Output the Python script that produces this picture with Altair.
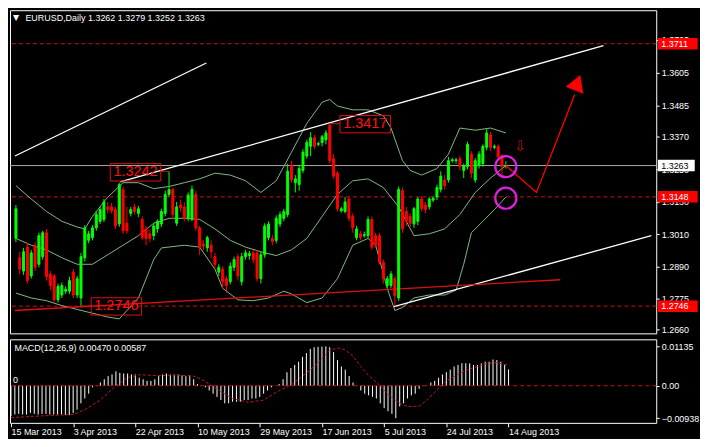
import altair as alt
import pandas as pd

# ---------------- data ----------------
opens = [1.2995,1.2924,1.2875,1.2963,1.2857,1.2970,1.2900,1.2928,1.3016,1.2864,
         1.2857,1.2769,1.2787,1.2801,1.2801,1.2871,1.2787,1.2776,1.2924,1.2988,
         1.2998,1.3034,1.3058,1.3065,1.3111,1.3111,1.3101,1.3048,1.3175,1.3051,
         1.3087,1.3111,1.3087,1.3065,1.3030,1.3012,1.3005,1.3030,1.3048,1.3087,
         1.3157,1.3175,1.3051,1.3118,1.3111,1.3069,1.3065,1.3157,1.3034,1.2974,
         1.2960,1.2970,1.2928,1.2871,1.2882,1.2847,1.2836,1.2889,1.2928,1.2836,
         1.2928,1.2932,1.2942,1.2942,1.2847,1.2935,1.2998,1.2995,1.2988,1.3048,
         1.3069,1.3083,1.3263,1.3200,1.3193,1.3245,1.3298,1.3334,1.3365,1.3341,
         1.3348,1.3358,1.3411,1.3288,1.3235,1.3097,1.3094,1.3140,1.3076,1.2998,
         1.3012,1.3005,1.3005,1.3065,1.3005,1.3005,1.2907,1.2822,1.2822,1.2847,
         1.2776,1.3171,1.3094,1.3076,1.3048,1.3058,1.3140,1.3118,1.3111,1.3136,
         1.3147,1.3175,1.3210,1.3210,1.3281,1.3281,1.3288,1.3245,1.3259,1.3305,
         1.3210,1.3263,1.3270,1.3330,1.3376,1.3330,1.3334,1.3298,1.3262]
highs = [1.3118,1.2946,1.2960,1.2977,1.2953,1.2981,1.3016,1.3023,1.3030,1.2875,
         1.2864,1.2829,1.2833,1.2819,1.2854,1.2882,1.2857,1.2942,1.3044,1.3023,
         1.3044,1.3094,1.3111,1.3140,1.3129,1.3125,1.3111,1.3200,1.3186,1.3111,
         1.3111,1.3122,1.3115,1.3076,1.3041,1.3030,1.3051,1.3065,1.3104,1.3171,
         1.3242,1.3182,1.3129,1.3136,1.3129,1.3164,1.3189,1.3171,1.3041,1.2988,
         1.3005,1.2988,1.2942,1.2900,1.2893,1.2857,1.2907,1.2928,1.2939,1.2942,
         1.2953,1.2949,1.2953,1.2953,1.2946,1.3051,1.3058,1.3009,1.3080,1.3094,
         1.3104,1.3270,1.3281,1.3228,1.3263,1.3323,1.3358,1.3386,1.3376,1.3351,
         1.3376,1.3393,1.3417,1.3305,1.3242,1.3111,1.3147,1.3147,1.3087,1.3041,
         1.3023,1.3020,1.3076,1.3076,1.3016,1.3016,1.2917,1.2857,1.2875,1.2857,
         1.3186,1.3182,1.3111,1.3087,1.3111,1.3147,1.3150,1.3129,1.3147,1.3150,
         1.3193,1.3242,1.3228,1.3295,1.3291,1.3291,1.3298,1.3270,1.3351,1.3316,
         1.3291,1.3316,1.3341,1.3397,1.3386,1.3341,1.3341,1.3305,1.3279]
lows = [1.2981,1.2864,1.2861,1.2829,1.2847,1.2875,1.2889,1.2917,1.2840,1.2805,
        1.2759,1.2759,1.2776,1.2791,1.2791,1.2776,1.2776,1.2746,1.2910,1.2977,
        1.2988,1.3023,1.3048,1.3055,1.3087,1.3087,1.3030,1.3037,1.3012,1.3012,
        1.3076,1.3083,1.3073,1.2988,1.2970,1.2981,1.2988,1.3016,1.3037,1.3076,
        1.3147,1.3065,1.3041,1.3094,1.3058,1.3058,1.3058,1.3023,1.2935,1.2953,
        1.2946,1.2924,1.2882,1.2857,1.2812,1.2794,1.2826,1.2875,1.2840,1.2822,
        1.2917,1.2917,1.2903,1.2836,1.2829,1.2924,1.2988,1.2970,1.2977,1.3037,
        1.3058,1.3073,1.3200,1.3164,1.3171,1.3235,1.3288,1.3298,1.3323,1.3334,
        1.3334,1.3341,1.3270,1.3214,1.3094,1.3090,1.3087,1.3058,1.3016,1.2988,
        1.2988,1.2998,1.2995,1.2953,1.2960,1.2900,1.2829,1.2812,1.2812,1.2746,
        1.2766,1.3016,1.3041,1.3037,1.3034,1.3044,1.3094,1.3087,1.3101,1.3129,
        1.3136,1.3164,1.3175,1.3200,1.3274,1.3270,1.3245,1.3217,1.3249,1.3217,
        1.3200,1.3252,1.3259,1.3319,1.3316,1.3323,1.3281,1.3224,1.3252]
closes = [1.3104,1.2882,1.2946,1.2840,1.2942,1.2889,1.3005,1.3016,1.2854,1.2822,
          1.2769,1.2819,1.2822,1.2808,1.2840,1.2787,1.2847,1.2928,1.3034,1.3012,
          1.3034,1.3083,1.3101,1.3129,1.3101,1.3097,1.3041,1.3193,1.3023,1.3023,
          1.3101,1.3094,1.3104,1.2998,1.2995,1.2995,1.3041,1.3058,1.3094,1.3157,
          1.3175,1.3083,1.3111,1.3108,1.3069,1.3154,1.3175,1.3034,1.2963,1.2967,
          1.2998,1.2946,1.2900,1.2889,1.2836,1.2822,1.2893,1.2917,1.2857,1.2928,
          1.2942,1.2939,1.2917,1.2847,1.2935,1.3041,1.3048,1.2984,1.3069,1.3083,
          1.3094,1.3242,1.3210,1.3214,1.3252,1.3312,1.3348,1.3365,1.3334,1.3344,
          1.3369,1.3383,1.3281,1.3224,1.3104,1.3104,1.3129,1.3069,1.3034,1.3030,
          1.2998,1.3009,1.3065,1.2963,1.2970,1.2907,1.2847,1.2847,1.2864,1.2784,
          1.3175,1.3030,1.3058,1.3051,1.3104,1.3140,1.3104,1.3101,1.3140,1.3143,
          1.3182,1.3224,1.3189,1.3281,1.3284,1.3284,1.3259,1.3263,1.3341,1.3235,
          1.3281,1.3305,1.3334,1.3383,1.3330,1.3334,1.3295,1.3259,1.3263]

macd = [-0.00877,-0.00831,-0.00812,-0.00831,-0.00831,-0.00785,-0.00812,-0.00831,-0.00812,-0.00812,
        -0.00831,-0.00831,-0.00831,-0.00831,-0.00849,-0.00849,-0.00785,-0.00692,-0.00508,-0.00369,
        -0.00231,-0.00046,0.00005,0.00092,0.00185,0.00277,0.00323,0.00415,0.00369,0.00351,
        0.00351,0.00323,0.00323,0.00231,0.00185,0.00138,0.00138,0.00185,0.00277,0.00323,
        0.00351,0.00323,0.00323,0.00323,0.00295,0.00277,0.00295,0.00185,0.00046,0.00005,
        -0.00046,-0.00138,-0.00231,-0.00323,-0.00415,-0.00508,-0.00508,-0.00462,-0.00462,-0.00462,
        -0.00415,-0.00415,-0.00369,-0.00369,-0.00323,-0.00231,-0.00138,-0.00046,0.00005,0.00046,
        0.00185,0.00388,0.00508,0.00600,0.00692,0.00831,0.00941,0.01061,0.01108,0.01120,
        0.01126,0.01135,0.01108,0.00969,0.00738,0.00554,0.00462,0.00277,0.00092,0.00010,
        -0.00138,-0.00231,-0.00277,-0.00323,-0.00369,-0.00508,-0.00646,-0.00738,-0.00812,-0.00938,
        -0.00600,-0.00508,-0.00369,-0.00277,-0.00231,-0.00092,-0.00010,0.00010,0.00092,0.00138,
        0.00231,0.00323,0.00388,0.00462,0.00554,0.00600,0.00646,0.00646,0.00646,0.00600,
        0.00600,0.00646,0.00692,0.00692,0.00757,0.00738,0.00692,0.00600,0.00470]

sig_idx = [0,8,16,19,23,27,30,33,37,44,47,49,51,54,57,61,65,67,69,70,72,75,78,80,82,84,86,88,
           90,92,95,97,100,102,105,107,110,112,115,117,120,122,125,128]
sig_val = [-0.00920,-0.00870,-0.00831,-0.00692,-0.00415,0.00000,0.00231,0.00314,0.00295,0.00295,
           0.00277,0.00185,0.00046,-0.00166,-0.00369,-0.00480,-0.00415,-0.00277,-0.00138,-0.00092,
           0.00018,0.00277,0.00554,0.00785,0.01015,0.01089,0.01034,0.00849,0.00554,0.00295,
           0.00000,-0.00258,-0.00508,-0.00600,-0.00591,-0.00415,-0.00074,0.00138,0.00323,0.00443,
           0.00554,0.00628,0.00665,0.00587]

bb_up_idx = [0,4,8,12,16,18,20,24,28,32,36,40,44,48,52,56,60,64,68,72,76,80,82,84,88,92,96,98,
             101,103,106,110,113,116,120,124,128]
bb_up = [1.3189,1.3140,1.3094,1.3058,1.3037,1.3030,1.3076,1.3147,1.3200,1.3200,1.3178,1.3186,
         1.3200,1.3214,1.3235,1.3228,1.3207,1.3164,1.3207,1.3312,1.3418,1.3496,1.3506,1.3482,
         1.3468,1.3468,1.3446,1.3401,1.3281,1.3245,1.3228,1.3252,1.3305,1.3401,1.3393,1.3401,1.3383]
bb_mid_idx = [0,4,8,12,16,20,24,28,32,36,40,44,48,52,56,60,64,68,72,76,80,84,88,92,96,100,104,
              108,112,116,120,124,128]
bb_mid = [1.2995,1.2970,1.2953,1.2924,1.2900,1.2900,1.2935,1.2970,1.3005,1.3051,1.3069,1.3069,
          1.3065,1.3030,1.2988,1.2963,1.2946,1.2932,1.2953,1.2995,1.3076,1.3157,1.3207,1.3214,
          1.3182,1.3111,1.3005,1.3012,1.3030,1.3083,1.3164,1.3217,1.3263]
bb_low_idx = [0,4,8,12,16,20,24,27,32,36,38,44,48,52,54,58,62,66,70,72,76,80,84,88,92,94,97,99,
              101,104,108,112,115,117,119,122,125,128]
bb_low = [1.2794,1.2776,1.2766,1.2748,1.2734,1.2720,1.2706,1.2699,1.2776,1.2917,1.2960,1.2970,
          1.2963,1.2882,1.2812,1.2769,1.2766,1.2776,1.2801,1.2791,1.2759,1.2776,1.2847,1.2970,
          1.2995,1.2970,1.2812,1.2730,1.2741,1.2776,1.2787,1.2787,1.2805,1.2900,1.3016,1.3058,
          1.3101,1.3147]

date_labels = ['15 Mar 2013', '3 Apr 2013', '22 Apr 2013', '10 May 2013', '29 May 2013',
               '17 Jun 2013', '5 Jul 2013', '24 Jul 2013', '14 Aug 2013']
date_ticks = [0, 16, 32, 48, 64, 80, 96, 112, 128]
price_ticks = [1.3725, 1.3605, 1.3485, 1.3370, 1.3250, 1.3130, 1.3010, 1.2890, 1.2775, 1.2660]
macd_ticks = [0.01135, 0.0, -0.00938]

hline_prices = [1.3711, 1.3148, 1.2746]
hline_texts = ['1.3711', '1.3148', '1.2746']
bid_price = [1.3263]

# trend lines: (id, index, price)
tl_id = ['a', 'a', 'b', 'b', 'c', 'c']
tl_i = [27.25, 153.5, -0.25, 49.75, 98.75, 166]
tl_p = [1.3203, 1.3704, 1.3298, 1.3640, 1.2744, 1.3005]
sup_i = [-0.25, 142.25]
sup_p = [1.2730, 1.2843]

arrow_i = [128, 136, 146]
arrow_p = [1.3263, 1.3164, 1.3524]
head_i = [146.7]
head_p = [1.3568]

circ_i = [128, 128]
circ_p = [1.3259, 1.3143]

box_t = ['1.3242', '1.3417', '1.2746']
box_i = [31.25, 91.25, 26.25]
box_p = [1.3238, 1.3415, 1.2745]
conn_i = [37.75, 82, 17]
conn_i2 = [40, 84.75, 19.75]
conn_p = [1.3242, 1.3417, 1.2746]

# ---------------- chart ----------------
W, H1, H2 = 650, 325, 84
FONT = 'Liberation Sans'
FS = 9
BULL, BEAR = '#00ff00', '#ff0000'
BAND = '#80b880'

xsc = alt.Scale(domain=[-0.25, 166], nice=False, zero=False)
psc = alt.Scale(domain=[1.26459, 1.38342], nice=False, zero=False)
msc = alt.Scale(domain=[-0.01071, 0.01337], nice=False, zero=False)

pax = alt.Axis(orient='right', values=price_ticks, format='.4f', title=None, tickSize=3,
               labelPadding=2, domain=False, grid=False, labelColor='white', tickColor='white',
               labelFontSize=FS, labelFont=FONT)
max_ = alt.Axis(orient='right', values=macd_ticks, title=None, tickSize=3, labelPadding=2,
                domain=False, grid=False, labelColor='white', tickColor='white',
                labelFontSize=FS, labelFont=FONT,
                labelExpr="datum.value == 0 ? '0.00' : format(datum.value, '.5f')")
lab_arr = "[" + ",".join("'%s'" % d for d in date_labels) + "]"
xax = alt.Axis(orient='bottom', values=date_ticks, title=None, tickSize=4, labelPadding=1,
               domain=False, grid=False, labelColor='white', tickColor='white',
               labelFontSize=FS, labelFont=FONT, labelAlign='left', labelOverlap=False,
               labelFlush=False, labelExpr=lab_arr + "[round(datum.value / 16)]")


def X(f):
    return alt.X(f, type='quantitative', scale=xsc, axis=None)


def P(f):
    return alt.Y(f, type='quantitative', scale=psc, axis=pax)


csc = alt.Scale(domain=['up', 'down'], range=[BULL, BEAR])

cdf = pd.DataFrame({'i': list(range(len(opens))), 'o': opens, 'h': highs, 'l': lows, 'c': closes})
cdf['dir'] = ['up' if c >= o else 'down' for o, c in zip(opens, closes)]

bands = pd.concat([
    pd.DataFrame({'band': 'up', 'i': bb_up_idx, 'p': bb_up}),
    pd.DataFrame({'band': 'mid', 'i': bb_mid_idx, 'p': bb_mid}),
    pd.DataFrame({'band': 'low', 'i': bb_low_idx, 'p': bb_low}),
])

dashed = alt.Chart(pd.DataFrame({'p': hline_prices})).mark_rule(
    color='#d01010', strokeDash=[4, 3], strokeWidth=1).encode(y=P('p'))
bid = alt.Chart(pd.DataFrame({'p': bid_price})).mark_rule(
    color='#a8a8a8', strokeWidth=1).encode(y=P('p'))
band_lines = alt.Chart(bands).mark_line(color=BAND, strokeWidth=1).encode(
    x=X('i'), y=P('p'), detail='band:N')
white_tl = alt.Chart(pd.DataFrame({'id': tl_id, 'i': tl_i, 'p': tl_p})).mark_line(
    color='white', strokeWidth=1.3).encode(x=X('i'), y=P('p'), detail='id:N')
red_tl = alt.Chart(pd.DataFrame({'i': sup_i, 'p': sup_p})).mark_line(
    color='#e01010', strokeWidth=1.3).encode(x=X('i'), y=P('p'))
wicks = alt.Chart(cdf).mark_rule(strokeWidth=1).encode(
    x=X('i'), y=P('l'), y2='h', color=alt.Color('dir:N', scale=csc, legend=None))
bodies = alt.Chart(cdf).mark_bar(size=2, strokeWidth=1).encode(
    x=X('i'), y=P('o'), y2='c', color=alt.Color('dir:N', scale=csc, legend=None),
    stroke=alt.Stroke('dir:N', scale=csc, legend=None))
arrow = alt.Chart(pd.DataFrame({'i': arrow_i, 'p': arrow_p})).mark_line(
    color='#ff0000', strokeWidth=1.3).encode(x=X('i'), y=P('p'))
head = alt.Chart(pd.DataFrame({'i': head_i, 'p': head_p})).mark_point(
    shape='triangle-up', filled=True, color='#ff0000', size=360, angle=21, opacity=1).encode(
    x=X('i'), y=P('p'))
circles = alt.Chart(pd.DataFrame({'i': circ_i, 'p': circ_p})).mark_point(
    shape='circle', filled=False, color='#e020e0', size=450, strokeWidth=2.2, opacity=1).encode(
    x=X('i'), y=P('p'))
down_arrow = alt.Chart(pd.DataFrame({'i': [131.75], 'p': [1.3334], 't': ['⇩']})).mark_text(
    color='#b01010', fontSize=15, font='DejaVu Sans').encode(x=X('i'), y=P('p'), text='t:N')
conn = alt.Chart(pd.DataFrame({'i': conn_i, 'i2': conn_i2, 'p': conn_p})).mark_rule(
    color='#e01010', strokeWidth=1).encode(x=X('i'), x2='i2', y=P('p'))
RECT18 = 'M-1,-0.343L1,-0.343L1,0.343L-1,0.343Z'
boxes = alt.Chart(pd.DataFrame({'i': box_i, 'p': box_p})).mark_point(
    shape=RECT18, filled=False, color='#e01010', size=2580, strokeWidth=1, opacity=1).encode(
    x=X('i'), y=P('p'))
box_text = alt.Chart(pd.DataFrame({'i': box_i, 'p': box_p, 't': box_t})).mark_text(
    color='#ff1010', fontSize=14.5, font=FONT).encode(x=X('i'), y=P('p'), text='t:N')

RECT12 = 'M-1,-0.29L1,-0.29L1,0.29L-1,0.29Z'
RECT12B = 'M-1,-0.313L1,-0.313L1,0.313L-1,0.313Z'
rbox = alt.Chart(pd.DataFrame({'p': hline_prices})).mark_point(
    shape=RECT12, filled=True, color='#ff0000', size=1600, opacity=1).encode(
    x=alt.value(W + 21.7), y=P('p'))
rtext = alt.Chart(pd.DataFrame({'p': hline_prices, 't': hline_texts})).mark_text(
    color='white', fontSize=FS, font=FONT, align='left').encode(
    x=alt.value(W + 5), y=P('p'), text='t:N')
bbox = alt.Chart(pd.DataFrame({'p': bid_price})).mark_point(
    shape=RECT12B, filled=True, color='white', size=1369, opacity=1).encode(
    x=alt.value(W + 20.2), y=P('p'))
btext = alt.Chart(pd.DataFrame({'p': bid_price, 't': ['1.3263']})).mark_text(
    color='black', fontSize=FS, font=FONT, align='left').encode(
    x=alt.value(W + 5), y=P('p'), text='t:N')

title_tri = alt.Chart(pd.DataFrame({'t': ['▼']})).mark_text(
    color='white', fontSize=8, font='DejaVu Sans', align='left').encode(
    x=alt.value(3), y=alt.value(7.5), text='t:N')
title_txt = alt.Chart(pd.DataFrame({'t': ['EURUSD,Daily  1.3262 1.3279 1.3252 1.3263']})).mark_text(
    color='white', fontSize=FS, font=FONT, align='left').encode(
    x=alt.value(15.5), y=alt.value(7.5), text='t:N')

price = alt.layer(
    dashed, bid, band_lines, white_tl, red_tl, wicks, bodies, conn, boxes, box_text,
    arrow, head, circles, down_arrow, rbox, rtext, bbox, btext, title_tri, title_txt
).properties(width=W, height=H1)

mdf = pd.DataFrame({'i': list(range(len(macd))), 'm': macd})
hist = alt.Chart(mdf).mark_rule(color='white', strokeWidth=1).encode(
    x=alt.X('i:Q', scale=xsc, axis=xax), y=alt.Y('m:Q', scale=msc, axis=max_), y2=alt.datum(0))
zero = alt.Chart(pd.DataFrame({'z': [0.0]})).mark_rule(
    color='#c01010', strokeDash=[4, 3], strokeWidth=1).encode(
    y=alt.Y('z:Q', scale=msc, axis=max_))
signal = alt.Chart(pd.DataFrame({'i': sig_idx, 's': sig_val})).mark_line(
    color='#c01818', strokeDash=[3, 2], strokeWidth=1).encode(
    x=alt.X('i:Q', scale=xsc, axis=xax), y=alt.Y('s:Q', scale=msc, axis=max_))
mtitle = alt.Chart(pd.DataFrame({'t': ['MACD(12,26,9) 0.00470 0.00587']})).mark_text(
    color='white', fontSize=FS, font=FONT, align='left').encode(
    x=alt.value(4.5), y=alt.value(8.5), text='t:N')
mzero = alt.Chart(pd.DataFrame({'t': ['0']})).mark_text(
    color='white', fontSize=FS, font=FONT, align='left').encode(
    x=alt.value(3), y=alt.value(40.5), text='t:N')

macd_panel = alt.layer(hist, zero, signal, mtitle, mzero).properties(width=W, height=H2)

chart = alt.vconcat(price, macd_panel, spacing=3).properties(
    padding={'left': 0, 'top': 0, 'right': 0, 'bottom': 0}
).configure(background='black').configure_view(stroke='white', strokeWidth=1)

chart.save("out.html", embed_options={"renderer": "svg", "actions": False})
